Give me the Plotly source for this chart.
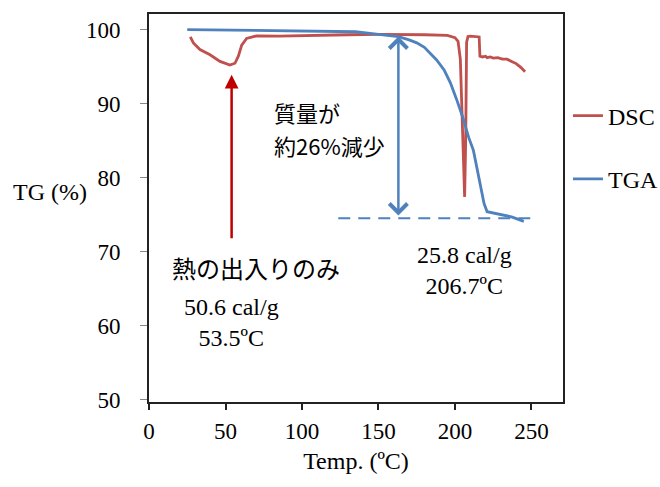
import plotly.graph_objects as go

# TGA curve (mass %)
tga_temp = [25, 80, 135, 150, 163, 170, 175, 180, 188, 193, 197, 201, 205, 209,
            212, 216, 219, 221, 229, 237, 245]
tga_mass = [100.0, 99.9, 99.7, 99.35, 99.05, 98.6, 98.2, 97.6, 95.9, 94.5, 92.8,
            90.6, 88.2, 85.4, 83.7, 79.6, 76.5, 75.4, 75.0, 74.7, 74.1]

# DSC curve (plotted on the same TG scale)
dsc_temp = [27, 29, 33.3, 39.9, 46.4, 52.9, 56.2, 58.4, 60.6, 63.8, 70.4, 85, 130,
            150, 180, 195, 200, 202, 203.5, 205.5, 206.3, 207, 207.6, 208.5, 210,
            215.8, 216.3, 218, 220, 221, 223, 225, 228, 231, 234, 237, 240, 243, 245.8]
dsc_val = [99.0, 98.2, 97.3, 96.6, 95.7, 95.2, 95.45, 96.4, 97.9, 98.8, 99.15, 99.1,
           99.3, 99.35, 99.3, 99.2, 98.9, 98.4, 96.0, 80.0, 77.4, 85.0, 98.3, 99.05,
           99.1, 99.0, 96.4, 96.3, 96.4, 96.2, 96.3, 96.15, 96.2, 96.0, 96.0, 95.7,
           95.4, 94.9, 94.3]

x_ticks = [0, 50, 100, 150, 200, 250]
y_ticks = [50, 60, 70, 80, 90, 100]

SERIF = "Liberation Serif, Times New Roman, serif"
JP = "Noto Sans CJK JP, sans-serif"
RED = "#C0504D"
BLUE = "#4F81BD"

fig = go.Figure()
fig.add_trace(go.Scatter(x=dsc_temp, y=dsc_val, mode="lines", name="DSC",
                         legendgroup="dsc", line=dict(color=RED, width=2.8)))
fig.add_trace(go.Scatter(x=tga_temp, y=tga_mass, mode="lines", name="TGA",
                         legendgroup="tga", line=dict(color=BLUE, width=2.8)))

# dashed level of the final mass
fig.add_shape(type="line", x0=123.7, x1=254.4, y0=74.5, y1=74.5,
              line=dict(color=BLUE, width=2, dash="12px,8px"))

# double arrow for mass loss
fig.add_annotation(x=163, y=99.05, ax=163, ay=74.7, xref="x", yref="y",
                   axref="x", ayref="y", text="", showarrow=True,
                   arrowhead=4, startarrowhead=4, arrowside="end+start",
                   arrowsize=1.4, startarrowsize=1.4, arrowwidth=2.5, arrowcolor=BLUE)
# red arrow to the endotherm
fig.add_annotation(x=54, y=93.9, ax=54, ay=71.6, xref="x", yref="y",
                   axref="x", ayref="y", text="", showarrow=True,
                   arrowhead=2, arrowsize=1.1, arrowwidth=2.5, arrowcolor="#C00000")

jp_font = dict(family=JP, size=22, color="black")
fig.add_annotation(x=80.2, y=100 - (112 - 29.7) / 7.4, text="質量が", showarrow=False,
                   xanchor="left", font=jp_font)
fig.add_annotation(x=80.2, y=100 - (145 - 29.7) / 7.4, text="約26%減少", showarrow=False,
                   xanchor="left", font=jp_font)
fig.add_annotation(x=13.7, y=67.9, text="熱の出入りのみ", showarrow=False,
                   xanchor="left", font=dict(family=JP, size=24, color="black"))
fig.add_annotation(x=54, y=60.5, text="50.6 cal/g<br>53.5ºC", showarrow=False,
                   font=dict(family=SERIF, size=24, color="black"))
fig.add_annotation(x=206, y=67.5, text="25.8 cal/g<br>206.7ºC", showarrow=False,
                   font=dict(family=SERIF, size=24, color="black"))
fig.add_annotation(x=-0.145, y=78, xref="paper", yref="y", text="TG (%)",
                   showarrow=False, xanchor="right",
                   font=dict(family=SERIF, size=24, color="black"))

fig.update_xaxes(range=[0, 270.6], tickvals=x_ticks, showgrid=False, zeroline=False,
                 showline=True, mirror=True, linecolor="#222", linewidth=2,
                 ticks="outside", ticklen=6, tickwidth=2, tickcolor="#222",
                 ticklabelstandoff=1,
                 tickfont=dict(family=SERIF, size=23, color="black"),
                 title=dict(text="Temp. (ºC)", standoff=10,
                            font=dict(family=SERIF, size=24, color="black")))
fig.update_yaxes(range=[49.7, 102.1], tickvals=y_ticks, showgrid=False, zeroline=False,
                 showline=True, mirror=True, linecolor="#222", linewidth=2,
                 ticks="outside", ticklen=7, tickwidth=1, tickcolor="#888",
                 ticklabelstandoff=15,
                 tickfont=dict(family=SERIF, size=23, color="black"))

fig.update_layout(width=660, height=487, plot_bgcolor="white", paper_bgcolor="white",
                  margin=dict(l=149, r=97, t=14, b=85, autoexpand=False),
                  legend=dict(x=1.012, y=0.795, xanchor="left", yanchor="top",
                              traceorder="grouped", tracegroupgap=29, itemwidth=30,
                              font=dict(family=SERIF, size=24, color="black"),
                              bgcolor="rgba(0,0,0,0)"))

fig.write_html("out.html", config={"displayModeBar": False},
               post_script="document.body.style.margin='0';")
